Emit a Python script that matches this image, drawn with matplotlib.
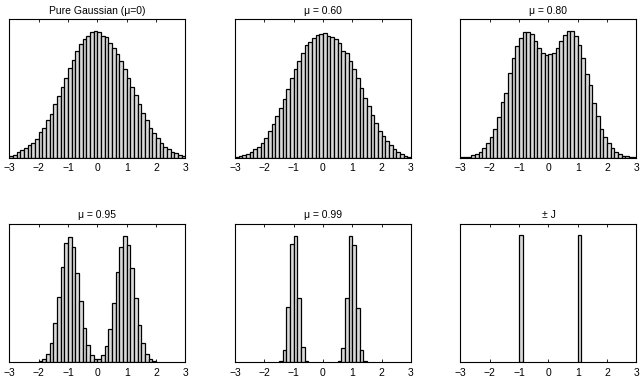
import numpy as np
import matplotlib
matplotlib.use("Agg")
import matplotlib.pyplot as plt

plt.rcParams['font.family'] = ['Liberation Sans', 'DejaVu Sans']

# histogram bins: 48 bins from -3 to 3
bin_lo, bin_hi, n_bins = -3.0, 3.0, 48

# bar heights (relative units, bin 1 .. bin 48)
gauss = [5, 8, 18, 23, 30, 38, 45, 56, 76, 88, 112, 130, 160, 186, 213, 238,
         270, 293, 321, 341, 356, 366, 376, 381, 376, 365, 362, 343, 328, 310,
         290, 266, 238, 213, 188, 160, 133, 113, 88, 73, 60, 45, 33, 25, 16,
         13, 8, 5]
mu060 = [3, 5, 8, 12, 18, 25, 33, 45, 58, 80, 100, 125, 148, 175, 205, 238,
         267, 290, 315, 337, 348, 360, 367, 372, 375, 365, 362, 355, 343, 320,
         313, 290, 265, 238, 208, 180, 155, 128, 105, 80, 65, 50, 38, 25, 18,
         10, 6, 3]
mu080 = [2, 2, 3, 7, 10, 18, 30, 43, 61, 85, 123, 166, 195, 253, 300, 336,
         360, 376, 378, 371, 350, 328, 313, 308, 310, 315, 330, 350, 368, 380,
         380, 366, 338, 300, 250, 218, 163, 126, 86, 63, 44, 28, 18, 10, 6,
         4, 2, 2]
mu095 = [0, 0, 0, 0, 0, 0, 0, 0, 4, 8, 24, 56, 116, 194, 284, 357,
         375, 344, 267, 182, 102, 52, 22, 10, 10, 22, 47, 99, 177, 270,
         344, 379, 352, 282, 192, 112, 57, 24, 10, 4, 0, 0, 0, 0, 0,
         0, 0, 0]
mu099 = [0, 0, 0, 0, 0, 0, 0, 0, 0, 0, 0, 0, 3, 37, 165, 354,
         377, 192, 45, 4, 0, 0, 0, 0, 0, 0, 0, 0, 3, 42, 192, 379,
         352, 162, 35, 2, 0, 0, 0, 0, 0, 0, 0, 0, 0, 0, 0, 0]
pmj = [0, 0, 0, 0, 0, 0, 0, 0, 0, 0, 0, 0, 0, 0, 0, 0,
       380, 0, 0, 0, 0, 0, 0, 0, 0, 0, 0, 0, 0, 0, 0, 0,
       380, 0, 0, 0, 0, 0, 0, 0, 0, 0, 0, 0, 0, 0, 0, 0]

titles = ['Pure Gaussian (\u03bc=0)', '\u03bc = 0.60', '\u03bc = 0.80',
          '\u03bc = 0.95', '\u03bc = 0.99', '\u00b1 J']
series = [gauss, mu060, mu080, mu095, mu099, pmj]
xticks = [-3, -2, -1, 0, 1, 2, 3]

edges = np.linspace(bin_lo, bin_hi, n_bins + 1)
width = edges[1] - edges[0]

fig = plt.figure(figsize=(6.4, 3.77), dpi=100)

col_left = [0.0148, 0.367, 0.7195]
row_bottom = [0.5817, 0.0398]
ax_w, ax_h = 0.275, 0.367

for i, (vals, title) in enumerate(zip(series, titles)):
    r, c = divmod(i, 3)
    ax = fig.add_axes([col_left[c], row_bottom[r], ax_w, ax_h])
    vals = np.array(vals, dtype=float)
    keep = vals > 0
    ax.bar(edges[:-1][keep], vals[keep], width=width, align='edge',
           color='#d9d9d9', edgecolor='black', linewidth=0.9)
    ax.set_xlim(bin_lo, bin_hi)
    ax.set_ylim(0, 415)
    ax.set_xticks(xticks)
    ax.set_yticks([])
    ax.tick_params(axis='x', direction='in', top=True, length=2.5,
                   width=0.6, labelsize=7.5, pad=4)
    for sp in ax.spines.values():
        sp.set_linewidth(0.8)
    ax.set_title(title, fontsize=7.5, pad=4)

fig.savefig('out.png', dpi=100)
